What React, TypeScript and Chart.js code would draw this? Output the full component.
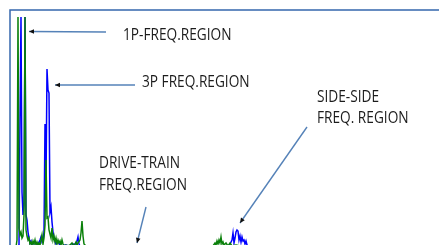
import { useEffect, useRef } from "react";
import { Chart, registerables } from "chart.js";

Chart.register(...registerables);

// Frequency (Hz) and amplitude values of the two spectra
const greenFreq = [
  0.06, 0.07, 0.08, 0.09, 0.1, 0.11, 0.12, 0.13, 0.14, 0.15, 0.16, 0.17, 0.18, 0.19, 0.2,
  0.21, 0.22, 0.23, 0.24, 0.25, 0.26, 0.27, 0.28, 0.29, 0.3, 0.31, 0.32, 0.33, 0.34, 0.35,
  0.36, 0.37, 0.38, 0.39, 0.4, 0.41, 0.42, 0.43, 0.44, 0.45, 0.46, 0.47, 0.48, 0.49, 0.5,
  0.51, 0.52, 0.53, 0.54, 0.56, 0.58, 0.6, 0.62, 0.64, 0.66, 0.67, 0.68, 0.7, 0.71, 0.72,
  0.73, 0.74, 0.76, 0.8, 0.9, 1.2, 1.5, 1.8, 2.0, 2.03, 2.05, 2.06, 2.07, 2.08, 2.09, 2.1,
  2.11, 2.12, 2.13, 2.14, 2.16, 2.18, 2.2, 2.22, 2.26, 2.3, 2.36, 2.5,
];
const greenAmp = [
  0, 0.07, 2.3, 0.19, 0.12, 0.15, 0.09, 0.11, 0.32, 2.3, 0.17, 0.11, 0.07, 0.09, 0.03,
  0.05, 0.02, 0.06, 0.03, 0.07, 0.02, 0.05, 0.02, 0.04, 0.02, 0.07, 0.12, 0.03, 0.09, 0.22,
  0.87, 0.29, 0.3, 0.17, 0.13, 0.09, 0.19, 0.07, 0.11, 0.05, 0.09, 0.03, 0.07, 0.04, 0.06,
  0.02, 0.07, 0.03, 0.01, 0.02, 0.01, 0.02, 0.04, 0.01, 0.05, 0.02, 0.04, 0.07, 0.14, 0.26,
  0.11, 0.03, 0.01, 0, 0.005, 0.005, 0, 0.005, 0, 0.01, 0.04, 0.02, 0.06, 0.03, 0.07, 0.04,
  0.1, 0.03, 0.05, 0.02, 0.04, 0.01, 0.04, 0.01, 0.02, 0.01, 0, 0,
];

const blueFreq = [
  0.06, 0.09, 0.1, 0.11, 0.12, 0.13, 0.14, 0.15, 0.16, 0.17, 0.18, 0.19, 0.2, 0.21, 0.22,
  0.24, 0.26, 0.28, 0.3, 0.31, 0.32, 0.33, 0.34, 0.35, 0.36, 0.37, 0.38, 0.39, 0.4, 0.41,
  0.42, 0.43, 0.44, 0.45, 0.46, 0.48, 0.5, 0.52, 0.55, 0.6, 0.64, 0.66, 0.67, 0.68, 0.69,
  0.7, 0.75, 1.0, 1.3, 1.6, 1.9, 2.18, 2.2, 2.22, 2.23, 2.24, 2.25, 2.26, 2.27, 2.28, 2.29,
  2.3, 2.31, 2.32, 2.33, 2.34, 2.35, 2.36, 2.37, 2.39, 2.5,
];
const blueAmp = [
  0, 0.02, 1.27, 2.3, 0.55, 0.32, 0.42, 2.3, 0.32, 0.27, 0.15, 0.09, 0.04, 0.06, 0.01,
  0.02, 0.01, 0.03, 0.07, 0.1, 0.05, 0.07, 0.15, 1.23, 0.62, 1.78, 1.57, 1.54, 0.35, 0.4,
  0.25, 0.15, 0.09, 0.06, 0.03, 0.05, 0.02, 0.01, 0.02, 0.01, 0.03, 0.01, 0.06, 0.1, 0.03,
  0.01, 0, 0.005, 0, 0.005, 0, 0, 0.03, 0.07, 0.14, 0.04, 0.09, 0.15, 0.17, 0.16, 0.07,
  0.11, 0.05, 0.1, 0.06, 0.07, 0.03, 0.06, 0.02, 0, 0,
];

// Annotation texts (anchored in data coordinates: frequency, amplitude baseline per line)
const noteTexts = [
  { lines: ["1P-FREQ.REGION"], f: 1.13, a: [2.07] },
  { lines: ["3P FREQ.REGION"], f: 1.32, a: [1.605] },
  { lines: ["DRIVE-TRAIN", "FREQ.REGION"], f: 0.89, a: [0.79, 0.57] },
  { lines: ["SIDE-SIDE", "FREQ. REGION"], f: 3.07, a: [1.45, 1.24] },
];

// Arrows: from (freq, amp) to tip (freq, amp)
const arrows = [
  { from: [0.96, 2.15], to: [0.19, 2.155] },
  { from: [1.25, 1.62], to: [0.45, 1.62] },
  { from: [1.36, 0.4], to: [1.27, 0.04] },
  { from: [2.97, 1.2], to: [2.3, 0.24] },
];

const frameColor = "#3567ad";
const arrowColor = "#5582b8";

const framePlugin = {
  id: "frame",
  afterDraw(chart: any) {
    const { ctx, chartArea } = chart;
    ctx.save();
    ctx.strokeStyle = frameColor;
    ctx.lineWidth = 1.5;
    ctx.strokeRect(chartArea.left, chartArea.top, chartArea.right - chartArea.left, chartArea.bottom - chartArea.top);
    ctx.restore();
  },
};

const notesPlugin = {
  id: "notes",
  afterDatasetsDraw(chart: any) {
    const { ctx } = chart;
    const xs = chart.scales.x;
    const ys = chart.scales.y;
    ctx.save();
    for (const ar of arrows) {
      const x1 = xs.getPixelForValue(ar.from[0]);
      const y1 = ys.getPixelForValue(ar.from[1]);
      const x2 = xs.getPixelForValue(ar.to[0]);
      const y2 = ys.getPixelForValue(ar.to[1]);
      ctx.strokeStyle = arrowColor;
      ctx.lineWidth = 1.4;
      ctx.beginPath();
      ctx.moveTo(x1, y1);
      ctx.lineTo(x2, y2);
      ctx.stroke();
      const ang = Math.atan2(y2 - y1, x2 - x1);
      const L = 5;
      const W = 2.3;
      const bx = x2 - L * Math.cos(ang);
      const by = y2 - L * Math.sin(ang);
      ctx.fillStyle = "#111";
      ctx.beginPath();
      ctx.moveTo(x2, y2);
      ctx.lineTo(bx + W * Math.sin(ang), by - W * Math.cos(ang));
      ctx.lineTo(bx - W * Math.sin(ang), by + W * Math.cos(ang));
      ctx.closePath();
      ctx.fill();
    }
    ctx.font = '16px "Open Sans", "Liberation Sans", sans-serif';
    const sx = 88 / ctx.measureText("FREQ.REGION").width;
    ctx.fillStyle = "#1c1c1c";
    ctx.textAlign = "left";
    ctx.textBaseline = "alphabetic";
    for (const n of noteTexts) {
      n.lines.forEach((t, i) => {
        const px = xs.getPixelForValue(n.f);
        const py = ys.getPixelForValue(n.a[i]);
        ctx.save();
        ctx.translate(px, py);
        ctx.scale(sx, 1);
        ctx.fillText(t, 0, 0);
        ctx.restore();
      });
    }
    ctx.restore();
  },
};

export default function App() {
  const ref = useRef<HTMLCanvasElement>(null);
  useEffect(() => {
    if (!ref.current) return;
    const chart = new Chart(ref.current, {
      type: "line",
      data: {
        datasets: [
          {
            label: "Green",
            data: greenFreq.map((f, i) => ({ x: f, y: greenAmp[i] })),
            borderColor: "#0a800a",
            borderWidth: 1.5,
            pointRadius: 0,
            tension: 0,
          },
          {
            label: "Blue",
            data: blueFreq.map((f, i) => ({ x: f, y: blueAmp[i] })),
            borderColor: "#0000ff",
            borderWidth: 1.5,
            pointRadius: 0,
            tension: 0,
          },
        ],
      },
      options: {
        responsive: false,
        animation: false,
        events: [],
        layout: { padding: { left: 10, top: 10, right: 0, bottom: 13 } },
        plugins: { legend: { display: false }, tooltip: { enabled: false } },
        scales: {
          x: { type: "linear", min: 0, max: 4.6, display: false },
          y: { type: "linear", min: 0, max: 2.37, display: false },
        },
      },
      plugins: [framePlugin, notesPlugin],
    });
    return () => chart.destroy();
  }, []);
  return (
    <div style={{ position: "fixed", left: 0, top: 0, width: 439, height: 245, overflow: "hidden", background: "#fff" }}>
      <canvas ref={ref} width={470} height={260} style={{ display: "block" }} />
    </div>
  );
}
